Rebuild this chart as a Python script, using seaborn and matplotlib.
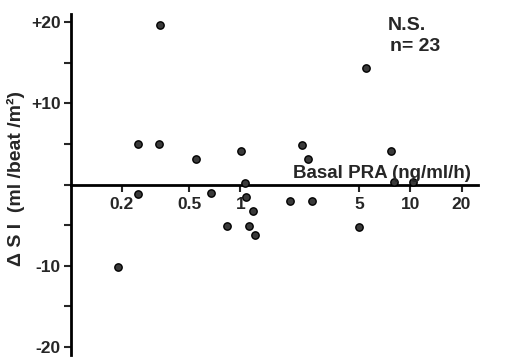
import numpy as np
import pandas as pd
import matplotlib
matplotlib.use("Agg")
import matplotlib.pyplot as plt
import matplotlib.ticker as mticker
import seaborn as sns

# values
basal_pra = [0.334, 0.248, 0.33, 0.55, 1.01,
             5.5, 2.29, 2.5, 7.7,
             1.97, 2.65, 5.0, 8.05, 10.4,
             0.25, 0.19, 0.675, 1.07, 1.08, 0.83, 1.13, 1.19, 1.21]
delta_si = [19.6, 5.0, 5.0, 3.2, 4.1,
            14.3, 4.9, 3.1, 4.1,
            -2.0, -2.0, -5.2, 0.3, 0.3,
            -1.2, -10.1, -1.1, 0.2, -1.5, -5.1, -5.1, -3.3, -6.2]
x_ticks = [0.2, 0.5, 1, 5, 10, 20]
x_tick_labels = ['0.2', '0.5', '1', '5', '10', '20']
y_ticks = [-20, -10, 10, 20]
y_tick_labels = ['-20', '-10', '+10', '+20']

df = pd.DataFrame({'Basal PRA': basal_pra, 'dSI': delta_si})

sns.set_style('white')
plt.rcParams['font.family'] = ['Liberation Sans', 'DejaVu Sans']
plt.rcParams['font.weight'] = 'bold'

fig = plt.figure(figsize=(5.2, 3.61), dpi=100)
ax = fig.add_axes([70.5 / 520, 1 - 355 / 361, (478 - 70.5) / 520, (355 - 14) / 361])

sns.scatterplot(data=df, x='Basal PRA', y='dSI', ax=ax, s=28, color='#3a3a3a',
                edgecolor='black', linewidth=1.0, legend=False, zorder=3, clip_on=False)

ax.set_xscale('log')
ax.set_xlim(0.1, 25)
ax.set_ylim(-21, 21)

# axes cross at y = 0, like the original
ax.spines['bottom'].set_position(('data', 0))
ax.spines['top'].set_visible(False)
ax.spines['right'].set_visible(False)
for side in ['left', 'bottom']:
    ax.spines[side].set_linewidth(2)
    ax.spines[side].set_color('black')

ax.xaxis.set_major_locator(mticker.FixedLocator(x_ticks))
ax.xaxis.set_major_formatter(mticker.FixedFormatter(x_tick_labels))
ax.xaxis.set_minor_locator(mticker.NullLocator())
ax.yaxis.set_major_locator(mticker.FixedLocator(y_ticks))
ax.yaxis.set_major_formatter(mticker.FixedFormatter(y_tick_labels))
ax.yaxis.set_minor_locator(mticker.FixedLocator([-15, -5, 0, 5, 15]))

ax.tick_params(axis='x', which='major', direction='out', length=5, width=1.5,
               labelsize=12.5, pad=4, bottom=True)
ax.tick_params(axis='y', which='both', direction='out', length=5, width=1.5,
               labelsize=12.5, pad=2, left=True)
for lab in ax.get_xticklabels() + ax.get_yticklabels():
    lab.set_fontweight('bold')

ax.set_xlabel('')
ax.set_ylabel('')
ax.grid(False)

ax.text(2.05, 0.25, 'Basal PRA (ng/ml/h)', fontsize=13.5, fontweight='bold',
        ha='left', va='bottom')
fig.text(388 / 520, 1 - 30 / 361, 'N.S.', fontsize=14, fontweight='bold',
         ha='left', va='baseline')
fig.text(390 / 520, 1 - 51 / 361, 'n= 23', fontsize=14, fontweight='bold',
         ha='left', va='baseline')
fig.text(16 / 520, 1 - 178 / 361, 'Δ S I  (ml /beat /m²)', rotation=90, fontsize=14,
         fontweight='bold', ha='center', va='center')

fig.savefig('out.png', dpi=100)
